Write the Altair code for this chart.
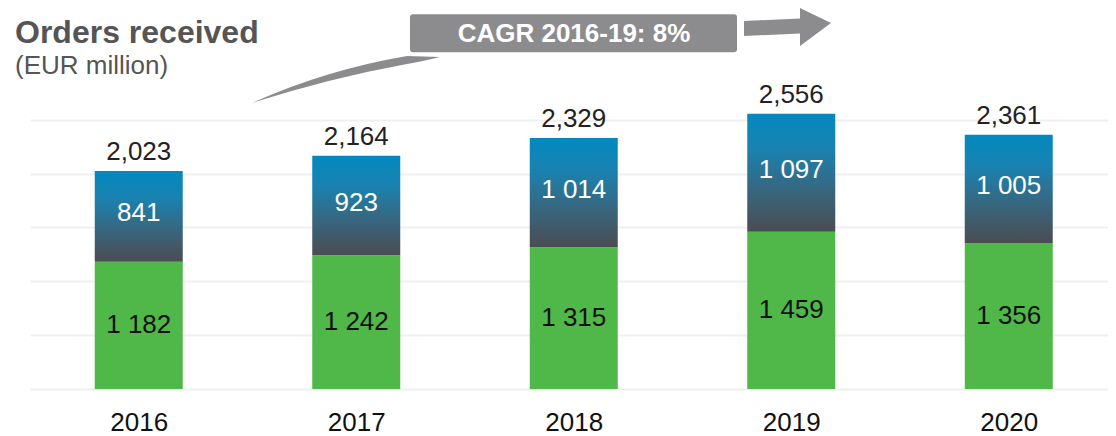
import altair as alt
import pandas as pd

# ---------------- data ----------------
years = [2016, 2017, 2018, 2019, 2020]
green_vals = [1182, 1242, 1315, 1459, 1356]
blue_vals = [841, 923, 1014, 1097, 1005]
totals = [2023, 2164, 2329, 2556, 2361]
grid_values = [0, 500, 1000, 1500, 2000, 2500]

title_text = "Orders received"
subtitle_text = "(EUR million)"
cagr_text = "CAGR 2016-19: 8%"


def spaced(v):
    return f"{v:,}".replace(",", " ")


df = pd.DataFrame({"year": years, "green": green_vals, "blue": blue_vals, "total": totals})
df["top"] = df["green"] + df["blue"]
df["green_mid"] = df["green"] / 2
df["blue_mid"] = df["green"] + df["blue"] / 2
df["green_label"] = [spaced(v) for v in green_vals]
df["blue_label"] = [spaced(v) for v in blue_vals]

one = pd.DataFrame({"k": [0]})

# ---------------- style ----------------
FONT = "Liberation Sans"
W, H = 1078, 381
YMAX = 3537
GREEN = "#50B848"
GRAY = "#8C8C8E"

x_scale = alt.Scale(domain=[2015.5, 2020.4563], nice=False, zero=False, padding=0)
y_scale = alt.Scale(domain=[0, YMAX], nice=False, zero=True, padding=0)
x_axis = alt.Axis(values=years, format="d", grid=False, domain=False, ticks=False, tickSize=0,
                  labelFontSize=26, labelFont=FONT, labelColor="#111111", labelPadding=41,
                  labelBaseline="alphabetic", labelFlush=False, title=None)
y_axis = alt.Axis(values=grid_values, grid=True, gridColor="#EFEFEF", gridWidth=2, labels=False,
                  ticks=False, domain=False, title=None)


def X():
    return alt.X("year:Q", scale=x_scale, axis=x_axis)


def Y(field):
    return alt.Y(field, scale=y_scale, axis=y_axis)


grad = alt.LinearGradient(
    gradient="linear",
    stops=[
        alt.GradientStop(color="#0389BF", offset=0),
        alt.GradientStop(color="#1A82B0", offset=0.3),
        alt.GradientStop(color="#38667E", offset=0.65),
        alt.GradientStop(color="#4B4C52", offset=1),
    ],
    x1=0, x2=0, y1=0, y2=1,
)

base = alt.Chart(df)

green_bar = base.mark_bar(color=GREEN, size=88).encode(x=X(), y=Y("green:Q"))
blue_bar = base.mark_bar(color=grad, size=88).encode(x=X(), y=Y("top:Q"), y2="green:Q")

green_txt = base.mark_text(font=FONT, fontSize=26, color="#111111", baseline="middle").encode(
    x=X(), y=Y("green_mid:Q"), text="green_label:N")
blue_txt = base.mark_text(font=FONT, fontSize=26, color="#FFFFFF", baseline="middle", dy=-3).encode(
    x=X(), y=Y("blue_mid:Q"), text="blue_label:N")
total_txt = base.mark_text(font=FONT, fontSize=26, color="#222222", baseline="alphabetic", dy=-11).encode(
    x=X(), y=Y("top:Q"), text=alt.Text("total:Q", format=","))

# ---------------- annotations (pixel positions in plot coordinates) ----------------
SWOOSH = "M222,95 Q295,62 377,48 L410,49 Q390,54 377,56 Q300,70 222,95 Z"
ARROW = "M714,13 L770,10.5 L770,0 L801,15 L770,38 L770,25.5 L714,28 Z"

ann = alt.Chart(one)
swoosh = ann.mark_point(shape=SWOOSH, size=4, filled=True, color=GRAY, opacity=1, strokeWidth=0).encode(
    x=alt.value(0), y=alt.value(0))
arrow = ann.mark_point(shape=ARROW, size=4, filled=True, color=GRAY, opacity=1, strokeWidth=0).encode(
    x=alt.value(0), y=alt.value(0))
box = ann.mark_rect(color=GRAY, cornerRadius=4, stroke="#FFFFFF", strokeWidth=2).encode(
    x=alt.value(379), x2=alt.value(708), y=alt.value(5.3), y2=alt.value(45.3))
cagr = ann.mark_text(font=FONT, fontSize=26, fontWeight="bold", color="#FFFFFF", baseline="middle",
                     align="center").encode(x=alt.value(544), y=alt.value(26), text=alt.value(cagr_text))
title = ann.mark_text(font=FONT, fontSize=32, fontWeight="bold", color="#555555", baseline="alphabetic",
                      align="left").encode(x=alt.value(-15), y=alt.value(35), text=alt.value(title_text))
subtitle = ann.mark_text(font=FONT, fontSize=26, color="#555555", baseline="alphabetic",
                         align="left").encode(x=alt.value(-15), y=alt.value(66), text=alt.value(subtitle_text))

chart = alt.layer(
    green_bar, blue_bar, green_txt, blue_txt, total_txt,
    swoosh, box, arrow, cagr, title, subtitle,
).properties(
    width=W, height=H,
    padding={"left": 22, "top": 0, "right": 0, "bottom": 47},
    autosize="none",
).configure_view(stroke=None)

chart.save("out.html", embed_options={"renderer": "svg", "actions": False})
